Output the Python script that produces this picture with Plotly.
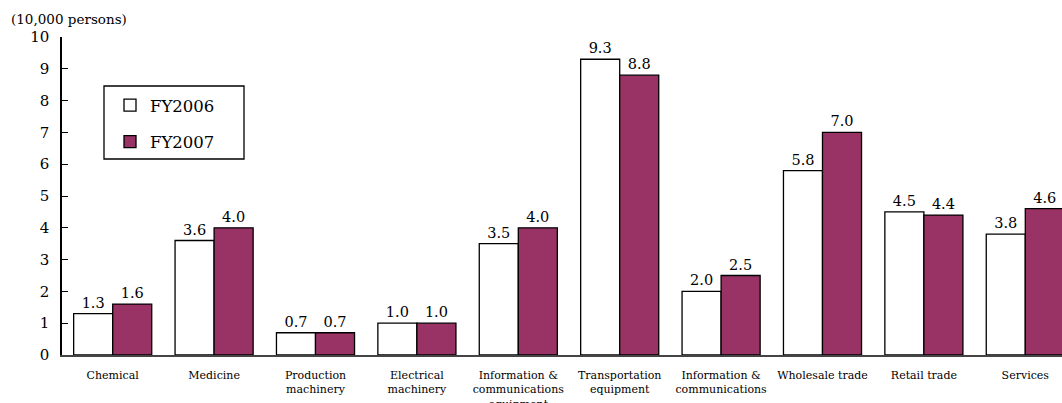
import plotly.graph_objects as go

categories = ["Chemical", "Medicine", "Production<br>machinery", "Electrical<br>machinery",
              "Information &<br>communications<br>equipment", "Transportation<br>equipment",
              "Information &<br>communications", "Wholesale trade", "Retail trade", "Services"]
fy2006 = [1.3, 3.6, 0.7, 1.0, 3.5, 9.3, 2.0, 5.8, 4.5, 3.8]
fy2007 = [1.6, 4.0, 0.7, 1.0, 4.0, 8.8, 2.5, 7.0, 4.4, 4.6]
y_ticks = [0, 1, 2, 3, 4, 5, 6, 7, 8, 9, 10]

SERIF = "DejaVu Serif, Liberation Serif, serif"
x_idx = list(range(len(categories)))

fig = go.Figure()
fig.add_trace(go.Bar(
    x=x_idx, y=fy2006, name="FY2006", legendgroup="a",
    marker=dict(color="white", line=dict(color="black", width=1.3)),
    text=[f"{v:.1f}" for v in fy2006], textposition="outside",
    textfont=dict(family=SERIF, size=14.5, color="black"),
    constraintext="none", cliponaxis=False,
))
fig.add_trace(go.Bar(
    x=x_idx, y=fy2007, name="FY2007", legendgroup="b",
    marker=dict(color="#993366", line=dict(color="black", width=1.3)),
    text=[f"{v:.1f}" for v in fy2007], textposition="outside",
    textfont=dict(family=SERIF, size=14.5, color="black"),
    constraintext="none", cliponaxis=False,
))

fig.update_layout(
    width=1062, height=403,
    margin=dict(l=62, r=0, t=37, b=48, autoexpand=False),
    paper_bgcolor="white", plot_bgcolor="white",
    barmode="group", bargap=0.23, bargroupgap=0,
    font=dict(family=SERIF, color="black"),
    showlegend=True,
    legend=dict(
        x=0.048, y=0.84, xanchor="left", yanchor="top",
        borderwidth=0, bgcolor="rgba(0,0,0,0)",
        font=dict(family=SERIF, size=16.5, color="black"),
        tracegroupgap=12, itemwidth=30,
        traceorder="grouped",
    ),
    shapes=[dict(
        type="rect", xref="paper", yref="paper",
        x0=(104 - 62) / 1000, x1=(244 - 62) / 1000,
        y0=(355 - 159) / 318, y1=(355 - 86) / 318,
        line=dict(color="black", width=1.3), fillcolor="rgba(0,0,0,0)", layer="above",
    )],
    annotations=[dict(
        text="(10,000 persons)", x=-0.053, y=1, xref="paper", yref="paper",
        xanchor="left", yanchor="bottom", yshift=8, showarrow=False,
        font=dict(family=SERIF, size=13.5, color="black"),
    )],
)
fig.update_xaxes(
    range=[-0.5, 9.362], tickmode="array", tickvals=x_idx, ticktext=categories,
    tickfont=dict(family=SERIF, size=11, color="black"),
    showline=True, linecolor="#444", linewidth=1.5, showgrid=False, ticks="", zeroline=False,
    ticklabelstandoff=9, automargin=False,
)
fig.update_yaxes(
    range=[0, 10], tickmode="array", tickvals=y_ticks,
    tickfont=dict(family=SERIF, size=15, color="black"),
    showline=True, linecolor="black", linewidth=1.5, showgrid=False,
    ticks="inside", ticklen=6, tickcolor="black", zeroline=False,
    ticklabelstandoff=8, automargin=False,
)
fig.write_html("out.html")
